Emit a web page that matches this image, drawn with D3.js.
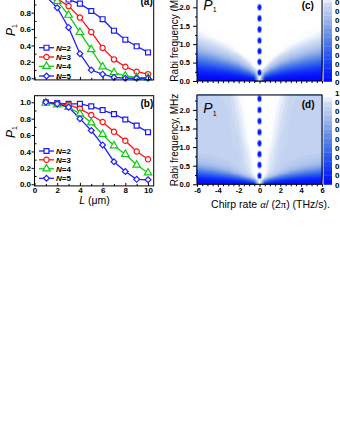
<!DOCTYPE html>
<html><head><meta charset="utf-8">
<script src="https://cdn.jsdelivr.net/npm/d3@7"></script>
<style>
body{margin:0;background:#fff}
svg{display:block}
text{font-family:"Liberation Sans",Arial,sans-serif}
</style>
</head><body>
<svg id="chart" width="340" height="440"></svg>
<script>
// ---------- data: panels (a) and (b) ----------
const Lvals = [1, 2, 3, 4, 5, 6, 7, 8, 9, 10];
const Nlabels = ["2", "3", "4", "5"];
const aN2 = [1.00, 0.99, 0.96, 0.91, 0.82, 0.72, 0.58, 0.47, 0.39, 0.315];
const aN3 = [1.00, 0.97, 0.88, 0.74, 0.565, 0.37, 0.23, 0.14, 0.08, 0.05];
const aN4 = [1.00, 0.94, 0.77, 0.56, 0.35, 0.14, 0.07, 0.03, 0.01, 0.005];
const aN5 = [1.00, 0.86, 0.62, 0.30, 0.10, 0.05, 0.01, 0.0, 0.0, 0.0];
const bN2 = [1.00, 0.99, 0.98, 0.98, 0.95, 0.905, 0.855, 0.79, 0.715, 0.635];
const bN3 = [1.00, 0.98, 0.97, 0.92, 0.845, 0.76, 0.64, 0.53, 0.40, 0.305];
const bN4 = [0.99, 0.97, 0.94, 0.86, 0.75, 0.61, 0.47, 0.365, 0.235, 0.14];
const bN5 = [1.00, 0.98, 0.94, 0.80, 0.655, 0.48, 0.275, 0.155, 0.06, 0.055];
const pTicks = [0, 0.2, 0.4, 0.6, 0.8, 1.0];
const LTicks = [0, 2, 4, 6, 8, 10];

// ---------- data: panels (c) and (d) ----------
const chirpGrid = [-6, -4.5, -3, -2, -1, -0.5, 0, 0.5, 1, 2, 3, 4.5, 6];
const rabiGrid = [0, 0.1, 0.2, 0.3, 0.4, 0.5, 0.6, 0.8, 1.0, 1.2, 1.5, 2.0, 2.4];
const p1c = [
  [0, 0, 0, 0, 0, 0, 0.9, 0, 0, 0, 0, 0, 0],
  [.02, .02, .03, .05, .10, .18, 1, .18, .10, .05, .03, .02, .02],
  [.065, .085, .12, .18, .33, .55, 1, .55, .33, .18, .12, .085, .065],
  [.14, .18, .26, .36, .59, .83, 1, .83, .59, .36, .26, .18, .14],
  [.23, .30, .41, .55, .80, .96, 1, .96, .80, .55, .41, .30, .23],
  [.34, .43, .57, .71, .92, .99, 1, .99, .92, .71, .57, .43, .34],
  [.45, .55, .70, .83, .97, 1, 1, 1, .97, .83, .70, .55, .45],
  [.66, .76, .88, .96, 1, 1, 1, 1, 1, .96, .88, .76, .66],
  [.81, .89, .96, .99, 1, 1, 1, 1, 1, .99, .96, .89, .81],
  [.91, .96, .99, 1, 1, 1, 1, 1, 1, 1, .99, .96, .91],
  [.98, .99, 1, 1, 1, 1, 1, 1, 1, 1, 1, .99, .98],
  [1, 1, 1, 1, 1, 1, 1, 1, 1, 1, 1, 1, 1],
  [1, 1, 1, 1, 1, 1, 1, 1, 1, 1, 1, 1, 1]
];
const p1d = [
  [.02, .02, .02, .02, .02, .02, 0.9, .02, .02, .02, .02, .02, .02],
  [.05, .06, .09, .14, .28, .49, 1, .49, .28, .14, .09, .06, .05],
  [.17, .22, .32, .45, .72, .92, 1, .92, .72, .45, .32, .22, .17],
  [.34, .42, .56, .72, .88, .96, 1, .96, .88, .72, .56, .42, .34],
  [.51, .60, .72, .82, .90, .97, 1, .97, .90, .82, .72, .60, .51],
  [.65, .72, .79, .84, .91, .97, 1, .97, .91, .84, .79, .72, .65],
  [.74, .78, .82, .85, .92, .98, 1, .98, .92, .85, .82, .78, .74],
  [.82, .83, .84, .85, .93, .99, 1, .99, .93, .85, .84, .83, .82],
  [.84, .84, .84, .86, .95, 1, 1, 1, .95, .86, .84, .84, .84],
  [.84, .84, .84, .87, .97, 1, 1, 1, .97, .87, .84, .84, .84],
  [.84, .84, .84, .89, .98, 1, 1, 1, .98, .89, .84, .84, .84],
  [.84, .84, .85, .92, 1, 1, 1, 1, 1, .92, .85, .84, .84],
  [.84, .84, .86, .95, 1, 1, 1, 1, 1, .95, .86, .84, .84]
];
const dipRabi = [0.23, 0.52, 0.81, 1.10, 1.40, 1.70, 2.00, 2.30];
const rabiTicks = [0, 0.5, 1.0, 1.5, 2.0];
const chirpTicks = [-6, -4, -2, 0, 2, 4, 6];
const barTicks = [0, 0.1, 0.2, 0.3, 0.4, 0.5, 0.6, 0.7, 0.8, 0.9, 1];

// ---------- drawing ----------
const svg = d3.select("#chart");
const TF = "'Liberation Sans', Arial, sans-serif";

const xL = d3.scaleLinear().domain([0, 10.5]).range([34.5, 153.7]);
const yA = d3.scaleLinear().domain([-0.02, 1.08]).range([79.9, -10.3]);
const yB = d3.scaleLinear().domain([-0.02, 1.08]).range([185.9, 95.7]);

const styles = [
  {color: "#1a1aff", sym: d3.symbolSquare, size: 24, rot: 0},
  {color: "#ff1010", sym: d3.symbolCircle, size: 22, rot: 0},
  {color: "#10cc10", sym: d3.symbolTriangle, size: 24, rot: 0},
  {color: "#2020ff", sym: d3.symbolSquare, size: 17, rot: 45}
];

function styleTicks(sel, fs) {
  sel.select(".domain").remove();
  sel.selectAll("text").attr("font-size", fs || 8).attr("font-weight", "bold").attr("font-family", TF).attr("fill", "#000");
}

function linePanel(yS, series, legendY, showXLabels, tag, tagY) {
  const g = svg.append("g");
  const line = d3.line().x((d, i) => xL(Lvals[i])).y(d => yS(d));
  series.forEach((s, k) => {
    g.append("path").attr("d", line(s)).attr("fill", "none")
      .attr("stroke", styles[k].color).attr("stroke-width", 1.3);
  });
  series.forEach((s, k) => {
    const st = styles[k];
    g.selectAll(null).data(s).join("path")
      .attr("transform", (d, i) => `translate(${xL(Lvals[i])},${yS(d)}) rotate(${st.rot})`)
      .attr("d", d3.symbol(st.sym, st.size)())
      .attr("fill", "#fff").attr("stroke", st.color).attr("stroke-width", 1.2);
  });
  const [x0, x1] = xL.range(), [y0, y1] = yS.range();
  g.append("rect").attr("x", x0).attr("y", y1).attr("width", x1 - x0).attr("height", y0 - y1)
    .attr("fill", "none").attr("stroke", "#000").attr("stroke-width", 1);
  g.append("g").attr("transform", `translate(${x0},0)`)
    .call(d3.axisLeft(yS).tickValues(pTicks).tickSize(3).tickPadding(0.5).tickFormat(d3.format(".1f")))
    .call(styleTicks);
  g.append("g").attr("transform", `translate(${x0},0)`)
    .call(d3.axisLeft(yS).tickValues([0.1, 0.3, 0.5, 0.7, 0.9]).tickSize(-2).tickFormat(""))
    .call(styleTicks);
  g.append("g").attr("transform", `translate(0,${y0})`)
    .call(d3.axisBottom(xL).tickValues(LTicks).tickSize(-3).tickPadding(1.5).tickFormat(showXLabels ? (d => String(d)) : ""))
    .call(styleTicks);
  g.append("g").attr("transform", `translate(0,${y0})`)
    .call(d3.axisBottom(xL).tickValues(Lvals.filter(v => v % 2 === 1)).tickSize(-2).tickFormat(""))
    .call(styleTicks);
  Nlabels.forEach((n, k) => {
    const ly = legendY[k], st = styles[k];
    g.append("line").attr("x1", 39).attr("x2", 54).attr("y1", ly).attr("y2", ly)
      .attr("stroke", st.color).attr("stroke-width", 1.3);
    g.append("path").attr("transform", `translate(46.5,${ly}) rotate(${st.rot})`)
      .attr("d", d3.symbol(st.sym, st.size)()).attr("fill", "#fff").attr("stroke", st.color).attr("stroke-width", 1.2);
    const t = g.append("text").attr("x", 56).attr("y", ly + 3).attr("font-size", 8).attr("font-weight", "bold");
    t.append("tspan").attr("font-style", "italic").text("N");
    t.append("tspan").text("=" + n);
  });
  g.append("text").attr("x", 140.5).attr("y", tagY).attr("font-size", 10).attr("font-weight", "bold").text(tag);
}

linePanel(yA, [aN2, aN3, aN4, aN5], [47.7, 57, 66.3, 76], false, "(a)", 4.5);
linePanel(yB, [bN2, bN3, bN4, bN5], [151, 159.8, 168.8, 178.3], true, "(b)", 107);

[[15, 30], [15, 132]].forEach(([x, y]) => {
  const t = svg.append("text").attr("transform", `translate(${x},${y}) rotate(-90)`)
    .attr("text-anchor", "middle").attr("font-size", 12);
  t.append("tspan").attr("font-style", "italic").text("P");
  t.append("tspan").attr("font-size", 7).attr("dy", 2).text("1");
});
{
  const t = svg.append("text").attr("x", 94.5).attr("y", 204).attr("text-anchor", "middle").attr("font-size", 10.5);
  t.append("tspan").attr("font-style", "italic").text("L");
  t.append("tspan").text(" (\u03bcm)");
}

// ---------- heatmaps ----------
const xH = d3.scaleLinear().domain([-6, 6]).range([197, 322]);
const yC = d3.scaleLinear().domain([0, 2.4]).range([81, -7.4]);
const yD = d3.scaleLinear().domain([0, 2.4]).range([184.3, 95]);
const color = d3.scaleLinear()
  .domain([0, 0.25, 0.5, 0.72, 0.88, 0.97])
  .range(["#0008ff", "#1f4cf2", "#5a86e6", "#a3bbeb", "#cddaf2", "#ffffff"])
  .clamp(true);
const step = 0.025;
const thresholds = d3.range(step, 0.999, step);
const barStep = 0.05;
const barBands = d3.range(0, 0.999, barStep);

function heatPanel(grid, yS, tag, tagY, pY, barY, xLabels) {
  const g = svg.append("g");
  const n = chirpGrid.length, m = rabiGrid.length;
  const ix = d3.scaleLinear().domain(d3.range(n)).range(chirpGrid).clamp(true);
  const iy = d3.scaleLinear().domain(d3.range(m)).range(rabiGrid).clamp(true);
  const proj = d3.geoTransform({
    point(x, y) { this.stream.point(xH(ix(x - 0.5)), yS(iy(y - 0.5))); }
  });
  const path = d3.geoPath(proj);
  const cont = d3.contours().size([n, m]).thresholds(thresholds)(grid.flat());
  const [x0, x1] = xH.range(), [y0, y1] = yS.range();
  g.append("rect").attr("x", x0).attr("y", y1).attr("width", x1 - x0).attr("height", y0 - y1)
    .attr("fill", color(step / 2));
  g.selectAll(null).data(cont).join("path").attr("d", path)
    .attr("fill", d => color(d.value + step / 2)).attr("stroke", d => color(d.value + step / 2)).attr("stroke-width", 0.3);
  g.selectAll(null).data(dipRabi).join("ellipse")
    .attr("cx", xH(0)).attr("cy", d => yS(d)).attr("rx", 2.4).attr("ry", 3.6).attr("fill", "#7f9fea");
  g.selectAll(null).data(dipRabi).join("ellipse")
    .attr("cx", xH(0)).attr("cy", d => yS(d)).attr("rx", 1.6).attr("ry", 2.6).attr("fill", "#0a18ff");
  g.append("rect").attr("x", x0).attr("y", y1).attr("width", x1 - x0).attr("height", y0 - y1)
    .attr("fill", "none").attr("stroke", "#000").attr("stroke-width", 1);
  g.append("g").attr("transform", `translate(${x0},0)`)
    .call(d3.axisLeft(yS).tickValues(rabiTicks).tickSize(4).tickPadding(3).tickFormat(d3.format(".1f")))
    .call(styleTicks, 7.5);
  g.append("g").attr("transform", `translate(${x0},0)`)
    .call(d3.axisLeft(yS).tickValues([0.25, 0.75, 1.25, 1.75, 2.25]).tickSize(2).tickFormat(""))
    .call(styleTicks);
  g.append("g").attr("transform", `translate(0,${y0})`)
    .call(d3.axisBottom(xH).tickValues(chirpTicks).tickSize(2.5).tickPadding(0.5).tickFormat(xLabels ? (d => String(d)) : ""))
    .call(styleTicks, 7.5);
  g.append("g").attr("transform", `translate(0,${y0})`)
    .call(d3.axisBottom(xH).tickValues(d3.range(-5.5, 6, 0.5).filter(v => v % 2 !== 0)).tickSize(2).tickFormat(""))
    .call(styleTicks);
  const t = g.append("text").attr("x", 203.3).attr("y", pY).attr("font-size", 14);
  t.append("tspan").attr("font-style", "italic").text("P");
  t.append("tspan").attr("font-size", 7).attr("dy", 2.2).text("1");
  g.append("text").attr("x", 301.7).attr("y", tagY).attr("font-size", 10).attr("font-weight", "bold").text(tag);
  // colour bar
  const yBar = d3.scaleLinear().domain([0, 1]).range(barY);
  g.selectAll(null).data(barBands).join("rect")
    .attr("x", 323.5).attr("width", 8.5)
    .attr("y", d => yBar(d + barStep)).attr("height", d => yBar(d) - yBar(d + barStep) + 0.3)
    .attr("fill", d => color(d + barStep / 2));
  g.selectAll(null).data(barTicks).join("text")
    .attr("x", 335).attr("y", d => yBar(d) + 3).attr("font-size", 8).attr("font-weight", "bold")
    .text(d => d === 0 || d === 1 ? String(d) : d3.format(".1f")(d));
}

heatPanel(p1c, yC, "(c)", 8.5, 10, [81.5, -6.5], false);
heatPanel(p1d, yD, "(d)", 108, 113.3, [184.5, 92.5], true);

svg.append("text").attr("transform", "translate(177.5,33) rotate(-90)").attr("text-anchor", "middle")
  .attr("font-size", 10).text("Rabi frequency (MHz)");
svg.append("text").attr("transform", "translate(177.5,140) rotate(-90)").attr("text-anchor", "middle")
  .attr("font-size", 10).text("Rabi frequency, MHz");
{
  const t = svg.append("text").attr("x", 270.5).attr("y", 208).attr("text-anchor", "middle").attr("font-size", 10.5);
  t.append("tspan").text("Chirp rate ");
  t.append("tspan").attr("font-family", "'Liberation Serif', serif").attr("font-style", "italic").text("\u03b1");
  t.append("tspan").text("/ (2");
  t.append("tspan").attr("font-family", "'Liberation Serif', serif").text("\u03c0");
  t.append("tspan").text(") (THz/s).");
}
</script>
</body></html>
